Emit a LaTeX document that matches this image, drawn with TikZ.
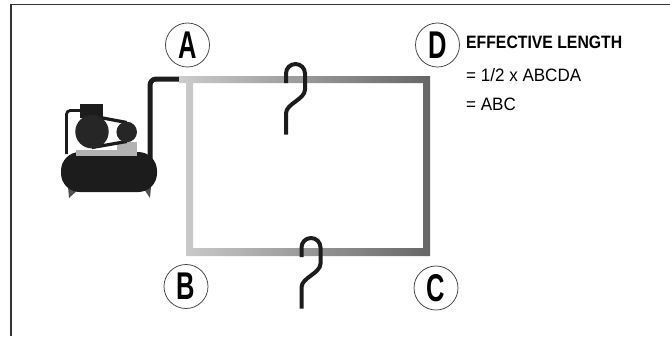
\documentclass[tikz,border=0pt]{standalone}
\usepackage{fontspec}
\setmainfont{Liberation Sans}
\newfontfamily\lettfont[FakeStretch=0.66]{Liberation Sans}
\newfontfamily\headfont[FakeStretch=0.88]{Liberation Sans}
\newfontfamily\notefont[FakeStretch=0.95]{Liberation Sans}

\definecolor{pipelight}{HTML}{CCCCCC}
\definecolor{pipedark}{HTML}{666666}
\definecolor{ink}{HTML}{1C1C1C}
\definecolor{legs}{HTML}{505050}
\definecolor{plate}{HTML}{B2B2B2}

\tikzset{
	corner/.style={circle, draw=black!75, line width=0.03cm, minimum size=1.76cm,
		inner sep=0pt, font=\lettfont\bfseries\fontsize{44}{44}\selectfont},
	hose/.style={draw=ink, line width=0.2cm, rounded corners=0.25cm},
	hanger/.style={draw=ink, line width=0.16cm},
	note/.style={anchor=base west, inner sep=0pt, font=\notefont\fontsize{20.4}{21}\selectfont}
}

\begin{document}
\begin{tikzpicture}[x=0.04cm, y=-0.04cm]
	\useasboundingbox (0,0) rectangle (670,336);

	% frame
	\draw[black!80, line width=0.07cm] (670,4.5) -- (11,4.5) -- (11,336);

	% compressor
	\fill[legs] (68,187) -- (69,198) -- (79,189) -- cycle;
	\fill[legs] (144,189) -- (150,198) -- (151,187) -- cycle;
	\fill[ink, rounded corners=0.75cm] (61,152) rectangle (157,192);
	\draw[hose] (150,165) -- (150,79) -- (180,79);
	\draw[draw=ink, line width=0.11cm, rounded corners=0.15cm] (66.5,154) -- (66.5,110.5) -- (82,110.5);
	\fill[plate] (76,149.5) rectangle (136.5,155.5);
	\fill[plate] (117,142) rectangle (136.5,150);
	\fill[ink] (80,103.5) rectangle (103,118);
	\draw[ink, line width=0.13cm] (92,116) -- (126.7,122.5);
	\draw[ink, line width=0.13cm] (92,147.5) -- (126.7,141.5);
	\fill[black!85] (92,131.7) circle (16.7);
	\fill[black!85] (126.7,132) circle (10.3);

	% test loop
	\shade[left color=pipelight, right color=pipedark, even odd rule]
		(179,76) -- (430,76) -- (430,256) -- (186,256) -- (186,83) -- (179,83) -- cycle
		(193,83) rectangle (423,248);

	% hangers
	\foreach \cx/\cy in {295.5/73.5, 311/247.5}
		\draw[hanger] ({\cx-9.5},{\cy+9.5}) -- ({\cx-9.5},\cy)
			arc[start angle=180, end angle=360, radius=9.5]
			-- ({\cx+9.5},{\cy+16}) .. controls ({\cx+9.5},{\cy+26}) and ({\cx-9.5},{\cy+30}) .. ({\cx-9.5},{\cy+40})
			-- ({\cx-9.5},{\cy+61});

	% corners
	\node[corner] (A) at (187.5,45) {A};
	\node[corner] (D) at (437.5,45) {D};
	\node[corner] (B) at (186,286.5) {B};
	\node[corner] (C) at (436,288) {C};

	% label
	\node[note, font=\headfont\bfseries\fontsize{20.4}{21}\selectfont] (eff) at (466,48.3) {EFFECTIVE LENGTH};
	\node[note] (half) at (466,81.5) {= 1/2 x ABCDA};
	\node[note] (abc) at (466,110) {= ABC};
\end{tikzpicture}
\end{document}
